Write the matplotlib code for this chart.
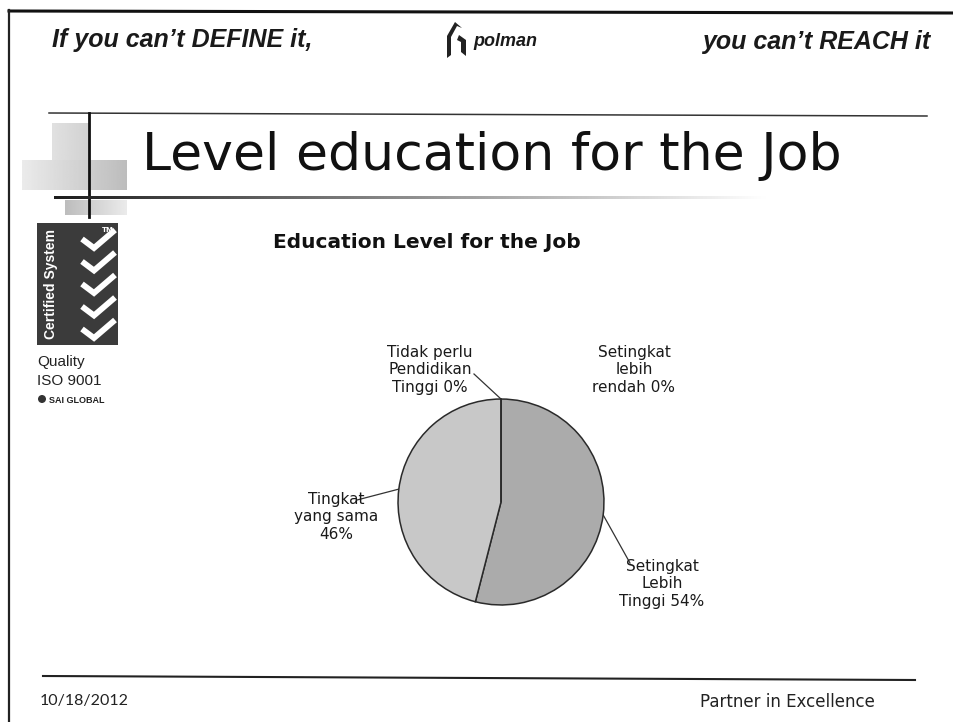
import numpy as np
import matplotlib
matplotlib.use("Agg")
import matplotlib.pyplot as plt
from matplotlib.patches import Rectangle, Circle, Polygon

# ---------------- data ----------------
categories = ["Setingkat\nlebih\nrendah", "Setingkat\nLebih\nTinggi", "Tingkat\nyang sama", "Tidak perlu\nPendidikan\nTinggi"]
values = [0, 54, 46, 0]
slice_colors = ["#b0b0b0", "#ababab", "#c8c8c8", "#c8c8c8"]
chart_title = "Education Level for the Job"
slide_title = "Level education for the Job"
date_text = "10/18/2012"
footer_text = "Partner in Excellence"

W, H = 954, 722
fig = plt.figure(figsize=(W / 100, H / 100), dpi=100)
fig.patch.set_facecolor("white")
bg = fig.add_axes([0, 0, 1, 1])
bg.axis("off")

# ---------------- frame lines ----------------
bg.plot([9, W], [11, 13], color="#111111", lw=2.2)
bg.plot([9, 9], [10, H], color="#222222", lw=1.6)
bg.plot([49, 927], [113, 116], color="#333333", lw=1.1)
bg.plot([89, 89], [113, 217], color="#111111", lw=2.0)
bg.plot([43, 915], [676, 680], color="#222222", lw=1.5)

def grad_block(x0, x1, y0, y1, c_left, c_right, z=0):
    n = 80
    row = np.linspace(c_left, c_right, n)
    img = np.tile(row, (4, 1))
    bg.imshow(img, cmap="gray", vmin=0, vmax=1, extent=(x0, x1, y1, y0),
              aspect="auto", interpolation="bilinear", zorder=z)

# gradient squares near the title
grad_block(52, 90, 123, 160, 0.88, 0.82)
grad_block(22, 127, 160, 190, 0.92, 0.74)
grad_block(65, 127, 200, 215, 0.74, 0.92)
# fading title underline
grad_block(54, 770, 196, 199, 0.12, 1.0, z=2)

bg.set_xlim(0, W)
bg.set_ylim(H, 0)

# ---------------- header ----------------
hdr_font = dict(family=["Liberation Sans", "DejaVu Sans"], fontweight="bold",
                fontstyle="italic", fontsize=18, color="#1a1a1a")
bg.text(52, 40, "If you can\u2019t DEFINE it,", ha="left", va="center", **hdr_font)
bg.text(930, 42, "you can\u2019t REACH it", ha="right", va="center", **hdr_font)

# polman logo
bg.add_patch(Polygon([[447, 36], [455, 22], [462, 28], [457, 26], [451, 37], [451, 55], [447, 58]],
                     closed=True, facecolor="#222222", edgecolor="none"))
bg.add_patch(Polygon([[459, 35], [466, 40], [466, 56], [461, 52], [461, 42], [457, 40]],
                     closed=True, facecolor="#222222", edgecolor="none"))
bg.text(473, 42, "polman", ha="left", va="center", family=["Liberation Sans", "DejaVu Sans"],
        fontweight="bold", fontstyle="italic", fontsize=13, color="#1a1a1a")

# slide title
bg.text(142, 170, slide_title, ha="left", va="baseline", family="DejaVu Sans",
        fontsize=37.5, color="#111111")

# ---------------- certified logo ----------------
bg.add_patch(Rectangle((37, 223), 81, 122, facecolor="#3b3b3b", edgecolor="none"))
bg.text(51, 284, "Certified System", rotation=90, ha="center", va="center",
        family=["Liberation Sans Narrow", "Liberation Sans"], fontweight="bold",
        fontsize=10, color="white")
for k in range(5):
    yb = 248 + k * 22.5
    bg.plot([82, 94, 115], [yb - 9, yb, yb - 18], color="white", lw=4.2,
            solid_capstyle="butt", solid_joinstyle="miter")
bg.text(108, 230, "TM", ha="center", va="center", fontsize=5, color="white",
        family="DejaVu Sans", fontweight="bold")
small_font = dict(family=["Liberation Sans Narrow", "Liberation Sans"], fontsize=11, color="#222222")
bg.text(37, 366, "Quality", ha="left", va="baseline", **small_font)
bg.text(37, 385, "ISO 9001", ha="left", va="baseline", **small_font)
bg.add_patch(Circle((42, 399), 4, facecolor="#333333", edgecolor="none"))
bg.text(49, 403, "SAI GLOBAL", ha="left", va="baseline", family=["Liberation Sans", "DejaVu Sans"],
        fontweight="bold", fontsize=6.5, color="#222222")

# ---------------- chart ----------------
bg.text(427, 243, chart_title, ha="center", va="center", family="DejaVu Sans",
        fontweight="bold", fontsize=14.5, color="#111111")

cx, cy, r = 501, 502, 104
pax = fig.add_axes([(cx - r) / W, 1 - (cy + r) / H, 2 * r / W, 2 * r / H])
wedges, _ = pax.pie(values, colors=slice_colors, startangle=90, counterclock=False,
                    radius=1, wedgeprops=dict(edgecolor="#2a2a2a", linewidth=1.1))
pax.set_xlim(-1.01, 1.01)
pax.set_ylim(-1.01, 1.01)
pax.set_aspect("equal")
pax.axis("off")

total = sum(values)
label_pos = [(634, 370), (662, 584), (336, 517), (430, 370)]
leader_end = [None, (630, 563), (357, 500), (474, 374)]
lab_font = dict(family="DejaVu Sans", fontsize=11, color="#1a1a1a", linespacing=1.2)

inv = bg.transData.inverted()
for w, cat, v, (lx, ly), le in zip(wedges, categories, values, label_pos, leader_end):
    pct = f"{round(100 * v / total)}%"
    if cat.endswith("sama"):
        txt = cat + "\n" + pct
    else:
        txt = cat + " " + pct
    bg.text(lx, ly, txt, ha="center", va="center", **lab_font)
    if le is not None:
        th = np.deg2rad((w.theta1 + w.theta2) / 2)
        disp = pax.transData.transform((np.cos(th), np.sin(th)))
        ax_, ay_ = inv.transform(disp)
        bg.plot([le[0], ax_], [le[1], ay_], color="#333333", lw=0.9)

# ---------------- footer ----------------
bg.text(40, 705, date_text, ha="left", va="baseline", family=["Lato", "DejaVu Sans"],
        fontsize=11.5, color="#222222")
bg.text(875, 707, footer_text, ha="right", va="baseline", family="DejaVu Sans",
        fontsize=12, color="#222222")

fig.savefig("out.png", dpi=100, facecolor="white")
